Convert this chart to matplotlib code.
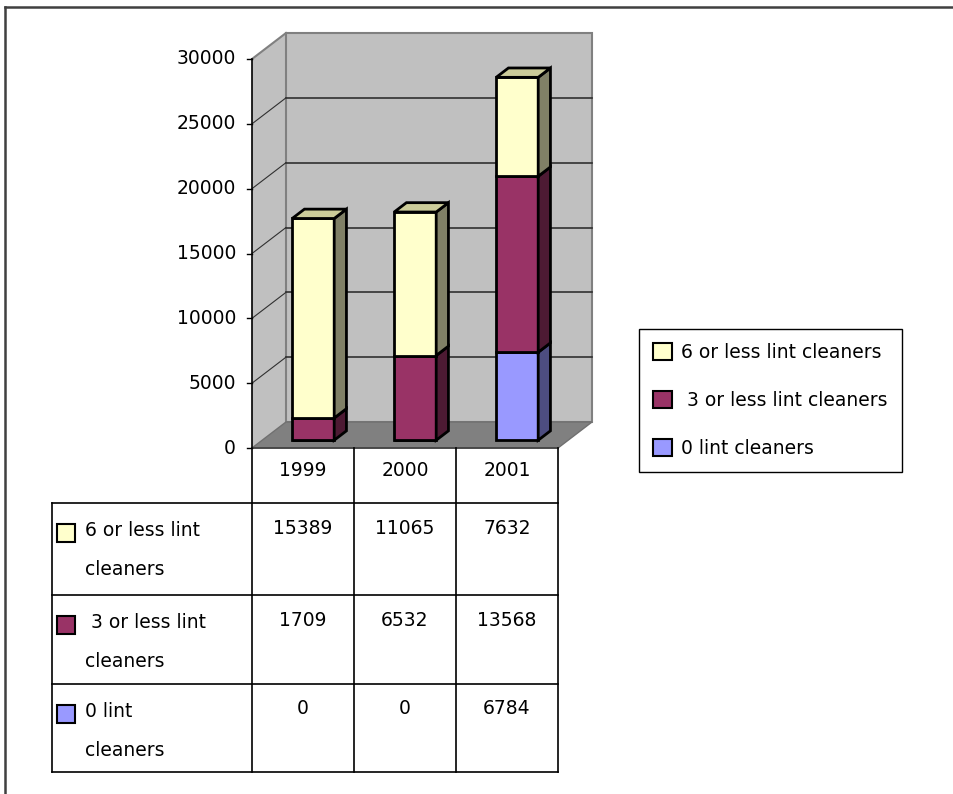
import matplotlib.pyplot as plt
from matplotlib.patches import Polygon, Rectangle, Patch

# dados
years = ['1999', '2000', '2001']
series = ['6 or less lint cleaners', ' 3 or less lint cleaners', '0 lint cleaners']
six_or_less = [15389, 11065, 7632]
three_or_less = [1709, 6532, 13568]
zero_lint = [0, 0, 6784]
y_ticks = [0, 5000, 10000, 15000, 20000, 25000, 30000]

# cores: frente, topo, lateral
FRONT = ['#FFFFCC', '#993366', '#9999FF']
TOP = ['#CCCC99', '#7A2952', '#7A7ACC']
SIDE = ['#808066', '#4D1A33', '#4D4D80']

plt.rcParams['font.family'] = 'DejaVu Sans'
FS = 13.5

# layout em pixels
W, H = 954, 794
LEFT = 252          # eixo frontal
CAT = 102           # largura de cada categoria
BASE = 448          # linha do zero
TOP_PX = 59         # linha do 30000
ymax = y_ticks[-1]
ppv = (BASE - TOP_PX) / ymax

DX = 34 / CAT       # profundidade do grafico 3D
DY = 26 / ppv
BAR_W = 42 / CAT
F0, F1 = 0.3, 0.66  # posicao das barras na profundidade


def proj(x, v, f):
    return (x + DX * f, v + DY * f)


fig = plt.figure(figsize=(W / 100, H / 100), dpi=100)
fig.patch.set_facecolor('white')

ax = fig.add_axes([0, 0, 1, 1])
ax.set_xlim(-LEFT / CAT, (W - LEFT) / CAT)
ax.set_ylim(-(H - BASE) / ppv, BASE / ppv)
ax.axis('off')

n = len(years)

# paredes e chao
ax.add_patch(Polygon([proj(0, 0, 0), proj(0, ymax, 0), proj(0, ymax, 1), proj(0, 0, 1)],
                     fc='#C0C0C0', ec='none', zorder=1))
ax.add_patch(Polygon([proj(0, 0, 1), proj(n, 0, 1), proj(n, ymax, 1), proj(0, ymax, 1)],
                     fc='#C0C0C0', ec='#808080', lw=1.5, zorder=1))
ax.add_patch(Polygon([proj(0, 0, 0), proj(n, 0, 0), proj(n, 0, 1), proj(0, 0, 1)],
                     fc='#808080', ec='#707070', lw=1, zorder=1))
ax.plot([0, DX], [ymax, ymax + DY], color='#808080', lw=1.5, zorder=1.5)

# linhas de grade
for v in y_ticks[1:-1]:
    (xa, ya), (xb, yb) = proj(0, v, 1), proj(n, v, 1)
    ax.plot([xa, xb], [ya, yb], color='#303030', lw=1.2, zorder=1.5)
    ax.plot([0, DX], [v, v + DY], color='#303030', lw=0.8, zorder=1.5)

# eixo y
ax.plot([0, 0], [0, ymax], color='black', lw=1.2, zorder=2)
ax.plot([0, n], [0, 0], color='#404040', lw=1.2, zorder=2)
for v in y_ticks:
    ax.plot([-5 / CAT, 0], [v, v], color='black', lw=1, zorder=2)
    ax.text(-16 / CAT, v, str(v), ha='right', va='center', fontsize=FS)

# barras empilhadas
stack = [zero_lint, three_or_less, six_or_less]
colors = list(zip(FRONT, TOP, SIDE))[::-1]
bottoms = [0] * n
top_color = [None] * n
x_front = [i + 0.5 + DX * F0 for i in range(n)]
for vals, (fc, tc, sc) in zip(stack, colors):
    ax.bar(x_front, vals, width=BAR_W, bottom=[b + DY * F0 for b in bottoms],
           color=fc, edgecolor='black', lw=2, zorder=3)
    for i, v in enumerate(vals):
        if v == 0:
            continue
        xr = i + 0.5 + BAR_W / 2
        b = bottoms[i]
        ax.add_patch(Polygon([proj(xr, b, F0), proj(xr, b, F1), proj(xr, b + v, F1), proj(xr, b + v, F0)],
                             fc=sc, ec='black', lw=2, joinstyle='miter', zorder=3))
        top_color[i] = tc
    bottoms = [b + v for b, v in zip(bottoms, vals)]

for i in range(n):
    xl, xr, t = i + 0.5 - BAR_W / 2, i + 0.5 + BAR_W / 2, bottoms[i]
    ax.add_patch(Polygon([proj(xl, t, F0), proj(xr, t, F0), proj(xr, t, F1), proj(xl, t, F1)],
                         fc=top_color[i], ec='black', lw=2, joinstyle='miter', zorder=3))

# tabela de dados (coordenadas em pixels)
tb = fig.add_axes([0, 0, 1, 1])
tb.set_xlim(0, W)
tb.set_ylim(H, 0)
tb.axis('off')

COL = [LEFT + CAT * i for i in range(n + 1)]
ROW_TOP = [503, 595, 684]
T_BOTTOM = 772
T_LEFT = 52

for x in COL:
    tb.plot([x, x], [BASE, T_BOTTOM], color='black', lw=1.2)
tb.plot([T_LEFT, T_LEFT], [ROW_TOP[0], T_BOTTOM], color='black', lw=1.2)
for y in ROW_TOP + [T_BOTTOM]:
    tb.plot([T_LEFT, COL[-1]], [y, y], color='black', lw=1.2)

for i, yr in enumerate(years):
    tb.text((COL[i] + COL[i + 1]) / 2, 470, yr, ha='center', va='center', fontsize=FS)

rows = [six_or_less, three_or_less, zero_lint]
for r, (name, vals) in enumerate(zip(series, rows)):
    top = ROW_TOP[r]
    tb.add_patch(Rectangle((57, top + 21), 18, 18, fc=FRONT[r], ec='black', lw=1.5))
    tb.text(85, top + 18, name.replace(' cleaners', '\ncleaners'), ha='left', va='top',
            fontsize=FS, linespacing=2.35)
    for i, v in enumerate(vals):
        tb.text((COL[i] + COL[i + 1]) / 2, top + 25, str(v), ha='center', va='center', fontsize=FS)

# moldura da area do grafico
tb.plot([5.5, W], [6.5, 6.5], color='#404040', lw=1.8)
tb.plot([5.5, 5.5], [6.5, H], color='#404040', lw=1.8)

# legenda
handles = [Patch(fc=c, ec='black', lw=1.5) for c in FRONT]
leg = fig.legend(handles, series, loc='upper left', bbox_to_anchor=(639 / W, 1 - 329 / H),
                 frameon=True, fancybox=False, edgecolor='black', framealpha=1,
                 fontsize=FS, handlelength=1.0, handleheight=1.0, handletextpad=0.5,
                 labelspacing=1.55, borderpad=0.75, borderaxespad=0)
leg.get_frame().set_linewidth(1)

fig.savefig('out.png', dpi=100, facecolor='white')
